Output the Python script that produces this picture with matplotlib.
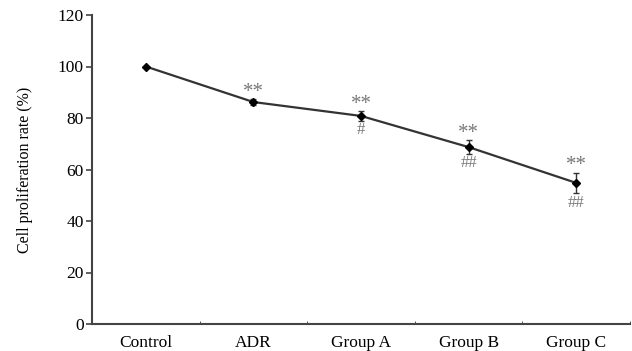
import matplotlib.pyplot as plt
import numpy as np

groups = ["Control", "ADR", "Group A", "Group B", "Group C"]
rate = [100, 86.2, 80.8, 68.7, 54.8]
err = [0, 1.2, 2.0, 2.7, 4.0]
stars = ["", "**", "**", "**", "**"]
hashes = ["", "", "#", "##", "##"]

plt.rcParams["font.family"] = ["Liberation Serif", "DejaVu Serif"]

fig = plt.figure(figsize=(6.32, 3.51), dpi=100)
ax = fig.add_axes([92 / 632, 1 - 324 / 351, 538 / 632, 309 / 351])

x = np.arange(1, len(groups) + 1)
ax.errorbar(x, rate, yerr=err, color="#333333", lw=1.6, marker="D", ms=4.5,
            mfc="black", mec="black", ecolor="#333333", elinewidth=1,
            capsize=2.5, capthick=1)

for xi, yi, ei, s, h in zip(x, rate, err, stars, hashes):
    if s:
        ax.annotate(s, (xi, yi + ei), xytext=(0, -2), textcoords="offset points",
                    ha="center", va="bottom", fontsize=15, color="#777777")
    if h:
        ax.annotate(h, (xi, yi - ei), xytext=(0, -1), textcoords="offset points",
                    ha="center", va="top", fontsize=12, color="#777777")

ax.set_xlim(0.5, 5.5)
ax.set_ylim(0, 120)
ax.set_yticks(range(0, 121, 20))
ax.set_xticks(x)
ax.set_xticklabels(groups, fontsize=12.5)
ax.set_xticks(np.arange(1.5, 6.0, 1.0), minor=True)
ax.tick_params(axis="x", which="major", length=0, pad=8)
ax.tick_params(axis="x", which="minor", length=2, direction="in", color="#333333")
ax.tick_params(axis="y", length=4, width=1.2, color="#444444", labelsize=12.5, pad=2)

for side in ["top", "right"]:
    ax.spines[side].set_visible(False)
for side in ["left", "bottom"]:
    ax.spines[side].set_color("#444444")
    ax.spines[side].set_linewidth(1.5)

ax.set_ylabel("Cell proliferation rate (%)", fontsize=11.5, labelpad=18)

fig.savefig("out.png", dpi=100)
